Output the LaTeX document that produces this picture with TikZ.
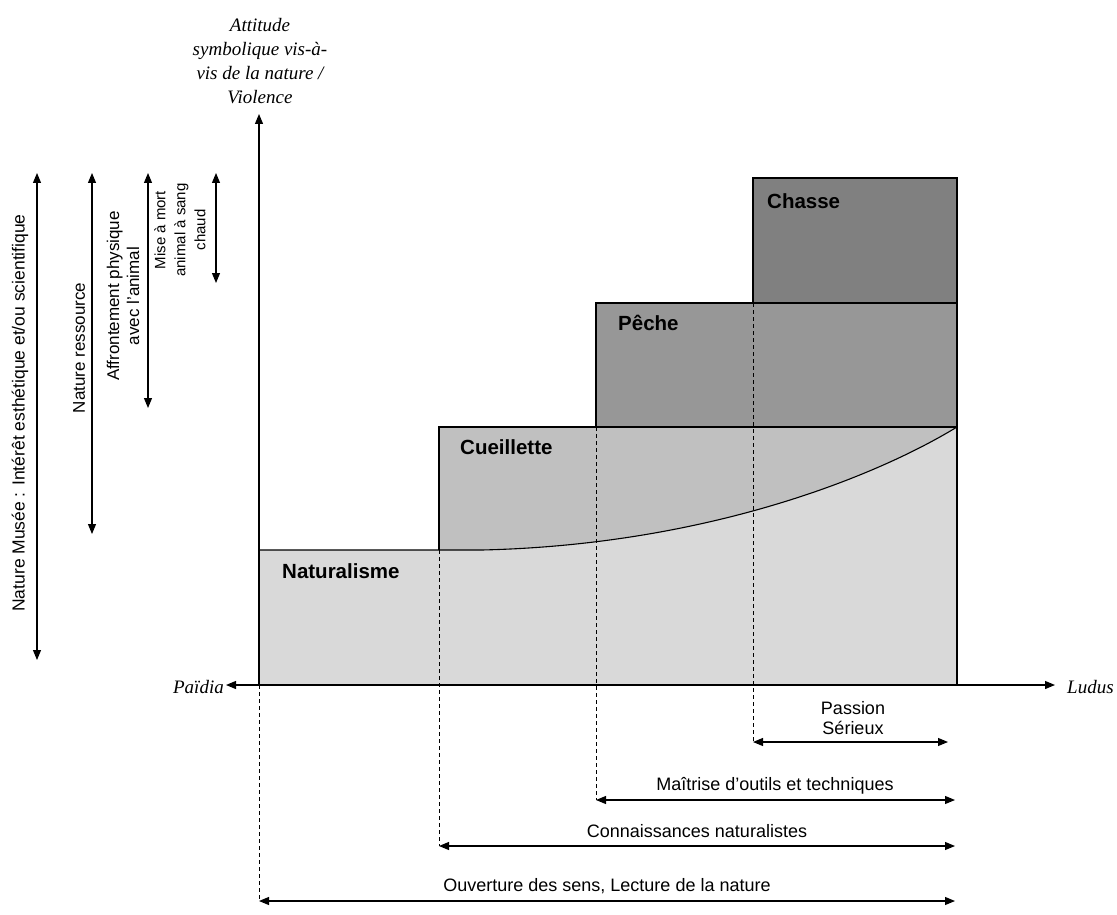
\documentclass[tikz,border=0pt]{standalone}
\usepackage{fontspec}
\setmainfont{Liberation Sans}
\newfontfamily\serifit{Liberation Serif}
\usetikzlibrary{arrows.meta}
\definecolor{lightg}{HTML}{D9D9D9}
\definecolor{midg}{HTML}{C0C0C0}
\definecolor{darkg}{HTML}{979797}
\definecolor{darkerg}{HTML}{808080}
\begin{document}
\begin{tikzpicture}[x=1pt,y=-1pt,
  edge/.style={line width=1.1pt, draw=black},
  tip/.style={-{Triangle[length=10pt,width=8pt]}, line width=1.2pt},
  dbl/.style={{Triangle[length=10pt,width=8pt]}-{Triangle[length=10pt,width=8pt]}, line width=1.1pt},
  dashv/.style={dash pattern=on 4pt off 3pt, line width=0.9pt},
  boxlabel/.style={font=\fontsize{20.5}{24}\selectfont\bfseries, anchor=west, inner sep=0},
  small/.style={font=\fontsize{18}{20}\selectfont, inner sep=0, align=center},
  side/.style={rotate=90, align=center, inner sep=0},
  axlabel/.style={font=\fontsize{19}{24}\selectfont\serifit\itshape, inner sep=0, align=center}]
\useasboundingbox (0,0) rectangle (1117,915);

% fills
\fill[lightg] (259,550) rectangle (957,685);
\fill[midg] (439,427) rectangle (957,550);
\fill[lightg] (482,550) .. controls (700,545) and (870,480) .. (957,427) -- (957,550) -- cycle;
\fill[darkg] (596,303) rectangle (957,427);
\fill[darkerg] (753,178) rectangle (957,303);

% outlines
\draw[edge] (259,685) -- (259,550) -- (482,550) .. controls (700,545) and (870,480) .. (957,427);
\draw[edge] (439,550) -- (439,427) -- (957,427);
\draw[edge] (596,427) -- (596,303) -- (957,303);
\draw[edge] (753,303) -- (753,178) -- (957,178) -- (957,685);

% box labels
\node[boxlabel] (nat) at (282,571) {Naturalisme};
\node[boxlabel] (cue) at (460,447) {Cueillette};
\node[boxlabel] (pec) at (618,323) {Pêche};
\node[boxlabel] (cha) at (767,201) {Chasse};

% axes
\coordinate (O) at (259,685);
\node[axlabel] (title) at (260,61) {Attitude\\symbolique vis-à-\\vis de la nature /\\Violence};
\coordinate (ytop) at (259,114);
\draw[tip] (O) -- (ytop);
\node[axlabel, anchor=east] (paidia) at (224,687) {Païdia};
\node[axlabel, anchor=west] (ludus) at (1067,687) {Ludus};
\coordinate (xl) at (226,685);
\coordinate (xr) at (1055,685);
\draw[tip] (O) -- (xl);
\draw[tip] (O) -- (xr);

% dashed verticals and bottom arrows
\coordinate (a1l) at (753,742); \coordinate (a1r) at (948,742);
\coordinate (a2l) at (596,800); \coordinate (a2r) at (955,800);
\coordinate (a3l) at (439,846); \coordinate (a3r) at (955,846);
\coordinate (a4l) at (259,901); \coordinate (a4r) at (955,901);
\coordinate (d1) at (753,303);
\coordinate (d2) at (596,427);
\coordinate (d3) at (439,550);
\draw[dashv] (d1) -- (a1l);
\draw[dashv] (d2) -- (a2l);
\draw[dashv] (d3) -- (a3l);
\draw[dashv] (O) -- (a4l);
\draw[dbl] (a1l) -- (a1r);
\draw[dbl] (a2l) -- (a2r);
\draw[dbl] (a3l) -- (a3r);
\draw[dbl] (a4l) -- (a4r);
\node[small] (passion) at (853,718) {Passion\\Sérieux};
\node[small] (maitrise) at (775,786) {Maîtrise d'outils et techniques};
\node[small] (conn) at (697,831) {Connaissances naturalistes};
\node[small] (ouv) at (607,886) {Ouverture des sens, Lecture de la nature};

% left arrows
\coordinate (l1t) at (37,173); \coordinate (l1b) at (37,660);
\coordinate (l2t) at (92,173); \coordinate (l2b) at (92,534);
\coordinate (l3t) at (148,173); \coordinate (l3b) at (148,408);
\coordinate (l4t) at (216,173); \coordinate (l4b) at (216,283);
\draw[dbl] (l1t) -- (l1b);
\draw[dbl] (l2t) -- (l2b);
\draw[dbl] (l3t) -- (l3b);
\draw[dbl] (l4t) -- (l4b);
\node[side, font=\fontsize{17.5}{20}\selectfont] (musee) at (20,413) {Nature Musée : Intérêt esthétique et/ou scientifique};
\node[side, font=\fontsize{17}{20}\selectfont] (ress) at (79,348) {Nature ressource};
\node[side, font=\fontsize{17}{20}\selectfont] (affr) at (123,296) {Affrontement physique\\avec l'animal};
\node[side, font=\fontsize{15}{20}\selectfont] (mise) at (180,230) {Mise à mort\\animal à sang\\chaud};
\end{tikzpicture}
\end{document}
